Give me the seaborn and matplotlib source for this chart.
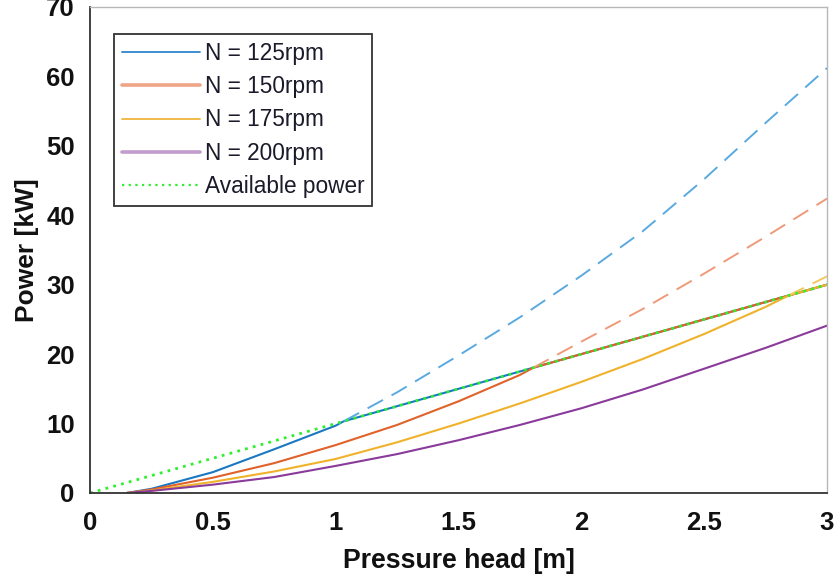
import numpy as np
import pandas as pd
import matplotlib
matplotlib.use("Agg")
import matplotlib.pyplot as plt
from matplotlib.lines import Line2D
from matplotlib import font_manager
import seaborn as sns

# Pressure head grid [m] and pump power curves [kW] for each rotor speed
HEAD = [0.15, 0.25, 0.5, 0.75, 1.0, 1.25, 1.5, 1.75, 2.0, 2.25, 2.5, 2.75, 3.0]
P_125 = [0, 0.6, 3.0, 6.3, 9.7, 14.5, 19.8, 25.3, 31.3, 37.7, 45.2, 53.3, 61.2]
P_150 = [0, 0.5, 2.2, 4.3, 6.9, 9.8, 13.2, 17.0, 21.8, 26.5, 31.6, 36.9, 42.4]
P_175 = [0, 0.35, 1.6, 3.1, 4.9, 7.3, 10.0, 12.9, 16.0, 19.3, 22.9, 26.8, 31.2]
P_200 = [0, 0.3, 1.2, 2.3, 3.9, 5.6, 7.6, 9.8, 12.2, 14.9, 17.9, 20.9, 24.1]

# Available power line
AVAIL_HEAD = [0, 3]
AVAIL_POWER = [0, 30]

SPEEDS = ["N = 125rpm", "N = 150rpm", "N = 175rpm", "N = 200rpm"]
CURVES = [P_125, P_150, P_175, P_200]
SOLID_COLORS = ["#1a78c2", "#e0622a", "#efb22a", "#8a3a9a"]
DASH_COLORS = ["#5aaae0", "#ee9a7a", "#f4c860", "#b07ac0"]
LEGEND_COLORS = ["#2f86cc", "#f0a486", "#f0b43a", "#c29ccc"]
LEGEND_WIDTHS = [1.3, 2.6, 1.3, 2.6]
GREEN = "#2ef02e"

XTICKS = [0, 0.5, 1, 1.5, 2, 2.5, 3]
XTICK_LABELS = ["0", "0.5", "1", "1.5", "2", "2.5", "3"]
YTICKS = [0, 10, 20, 30, 40, 50, 60, 70]


def pick_font(candidates):
    names = {f.name for f in font_manager.fontManager.ttflist}
    for c in candidates:
        if c in names:
            return c
    return "DejaVu Sans"


sns.set_style("white")
BODY = pick_font(["Liberation Sans", "Arial", "DejaVu Sans"])
plt.rcParams["font.family"] = [BODY, "DejaVu Sans"]

fig = plt.figure(figsize=(8.35, 5.81), dpi=100)
ax = fig.add_axes([0.1078, 0.1515, 0.8826, 0.8365])

head = np.asarray(HEAD, dtype=float)
avail_at_head = np.interp(head, AVAIL_HEAD, AVAIL_POWER)

for label, curve, sc, dc in zip(SPEEDS, CURVES, SOLID_COLORS, DASH_COLORS):
    p = np.asarray(curve, dtype=float)
    diff = p - avail_at_head
    above = np.where(diff > 0)[0]
    if len(above) == 0:
        solid = pd.DataFrame({"head": head, "power": p})
        dashed = None
    else:
        i = above[0]
        t = -diff[i - 1] / (diff[i] - diff[i - 1])
        hx = head[i - 1] + t * (head[i] - head[i - 1])
        px = float(np.interp(hx, AVAIL_HEAD, AVAIL_POWER))
        # operating curve: pump power limited by the available power
        sh = np.concatenate([head[:i], [hx], head[i:]])
        sp = np.concatenate([p[:i], [px], avail_at_head[i:]])
        solid = pd.DataFrame({"head": sh, "power": sp})
        dashed = pd.DataFrame({"head": np.concatenate([[hx], head[i:]]),
                               "power": np.concatenate([[px], p[i:]])})
    sns.lineplot(data=solid, x="head", y="power", ax=ax, color=sc,
                 linewidth=1.5, sort=False, estimator=None)
    if dashed is not None:
        sns.lineplot(data=dashed, x="head", y="power", ax=ax, color=dc,
                     linewidth=1.4, dashes=False, sort=False, estimator=None,
                     linestyle=(0, (9, 5)))

avail = pd.DataFrame({"head": AVAIL_HEAD, "power": AVAIL_POWER})
sns.lineplot(data=avail, x="head", y="power", ax=ax, color=GREEN,
             linewidth=2.0, linestyle=(0, (1, 1.9)), sort=False, estimator=None)

ax.set_xlim(0, 3)
ax.set_ylim(0, 70)
ax.set_xticks(XTICKS)
ax.set_xticklabels(XTICK_LABELS)
ax.set_yticks(YTICKS)
for lab in ax.get_xticklabels() + ax.get_yticklabels():
    lab.set_fontweight("bold")
    lab.set_fontsize(18.5)
    lab.set_color("#111111")
ax.tick_params(axis="x", direction="in", length=6, width=1.2, color="#333333", pad=13)
ax.tick_params(axis="y", direction="in", length=5, width=1.0, color="#999999", pad=11)

ax.set_xlabel("Pressure head [m]", fontsize=19.2, fontweight="bold",
              color="#111111", labelpad=9)
ax.set_ylabel("Power [kW]", fontsize=19, fontweight="bold",
              color="#111111", labelpad=5)

for side in ["left", "bottom"]:
    ax.spines[side].set_color("#333333")
    ax.spines[side].set_linewidth(1.3)
for side in ["top", "right"]:
    ax.spines[side].set_color("#b8b8b8")
    ax.spines[side].set_linewidth(1.0)

handles = [Line2D([], [], color=c, linewidth=w) for c, w in zip(LEGEND_COLORS, LEGEND_WIDTHS)]
handles.append(Line2D([], [], color=GREEN, linewidth=1.6, linestyle=(0, (1, 2.0))))
labels = SPEEDS + ["Available power"]
leg = ax.legend(handles, labels, loc="upper left", bbox_to_anchor=(0.0326, 0.944),
                borderaxespad=0, fontsize=16.3, handlelength=3.45, handletextpad=0.2,
                labelspacing=0.45, borderpad=0.35, frameon=True, fancybox=False,
                framealpha=1, edgecolor="#333333")
leg.get_frame().set_linewidth(1.3)
for t in leg.get_texts():
    t.set_color("#1a1a2a")

fig.savefig("out.png", dpi=100)
